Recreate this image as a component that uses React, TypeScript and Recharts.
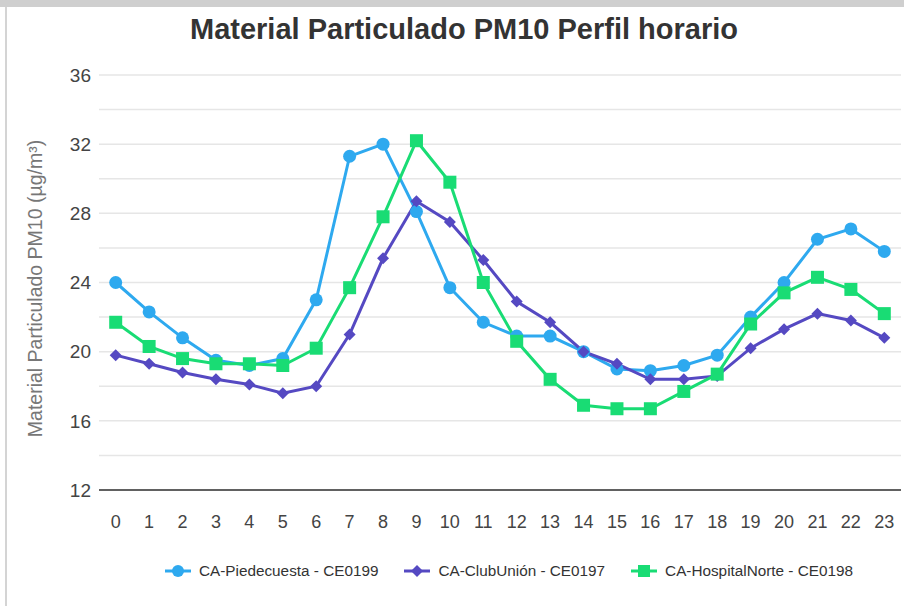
import { LineChart, Line, XAxis, YAxis, CartesianGrid } from 'recharts';

const hours = [0, 1, 2, 3, 4, 5, 6, 7, 8, 9, 10, 11, 12, 13, 14, 15, 16, 17, 18, 19, 20, 21, 22, 23];
const piedecuesta = [24.0, 22.3, 20.8, 19.5, 19.2, 19.6, 23.0, 31.3, 32.0, 28.1, 23.7, 21.7, 20.9, 20.9, 20.0, 19.0, 18.9, 19.2, 19.8, 22.0, 24.0, 26.5, 27.1, 25.8];
const clubUnion = [19.8, 19.3, 18.8, 18.4, 18.1, 17.6, 18.0, 21.0, 25.4, 28.7, 27.5, 25.3, 22.9, 21.7, 20.0, 19.3, 18.4, 18.4, 18.6, 20.2, 21.3, 22.2, 21.8, 20.8];
const hospitalNorte = [21.7, 20.3, 19.6, 19.3, 19.3, 19.2, 20.2, 23.7, 27.8, 32.2, 29.8, 24.0, 20.6, 18.4, 16.9, 16.7, 16.7, 17.7, 18.7, 21.6, 23.4, 24.3, 23.6, 22.2];
const yTicks = [12, 14, 16, 18, 20, 22, 24, 26, 28, 30, 32, 34, 36];

const C_BLUE = '#2ea9ef';
const C_PURPLE = '#5549c2';
const C_GREEN = '#19dc74';

const data = hours.map((h, i) => ({
  hour: h,
  pie: piedecuesta[i],
  club: clubUnion[i],
  hosp: hospitalNorte[i],
}));

const FONT = '"Liberation Sans", Arial, sans-serif';

function CircleDot(props: any) {
  const { cx, cy, index } = props;
  return <circle key={`c${index}`} cx={cx} cy={cy} r={6.5} fill={C_BLUE} />;
}
function DiamondDot(props: any) {
  const { cx, cy, index } = props;
  const s = 6;
  return (
    <path key={`d${index}`} d={`M${cx},${cy - s} L${cx + s},${cy} L${cx},${cy + s} L${cx - s},${cy} Z`} fill={C_PURPLE} />
  );
}
function SquareDot(props: any) {
  const { cx, cy, index } = props;
  return <rect key={`s${index}`} x={cx - 6.5} y={cy - 6.5} width={13} height={13} fill={C_GREEN} />;
}

const legendItems = [
  { name: 'CA-Piedecuesta - CE0199', color: C_BLUE, shape: 'circle' },
  { name: 'CA-ClubUnión - CE0197', color: C_PURPLE, shape: 'diamond' },
  { name: 'CA-HospitalNorte - CE0198', color: C_GREEN, shape: 'square' },
];

function LegendIcon({ color, shape }: { color: string; shape: string }) {
  return (
    <svg width={26} height={14} style={{ marginRight: 8 }}>
      <line x1={0} y1={7} x2={26} y2={7} stroke={color} strokeWidth={3} />
      {shape === 'circle' && <circle cx={13} cy={7} r={6} fill={color} />}
      {shape === 'diamond' && <path d="M13,1 L19,7 L13,13 L7,7 Z" fill={color} />}
      {shape === 'square' && <rect x={7} y={1} width={12} height={12} fill={color} />}
    </svg>
  );
}

export default function App() {
  return (
    <div style={{ position: 'absolute', left: 0, top: 0, width: 904, height: 606, background: '#fff', fontFamily: FONT }}>
      <div style={{ position: 'absolute', left: 0, top: 0, width: 904, height: 7, background: '#cfcfcf' }} />
      <div style={{ position: 'absolute', left: 5, top: 7, width: 2, height: 599, background: '#d4d4d4' }} />
      <div
        style={{
          position: 'absolute', left: 0, width: 928, top: 13, textAlign: 'center',
          fontSize: 29, fontWeight: 'bold', color: '#333',
        }}
      >
        Material Particulado PM10 Perfil horario
      </div>
      <LineChart
        width={904}
        height={606}
        data={data}
        margin={{ top: 75, right: 3, left: 0, bottom: 86 }}
      >
        <CartesianGrid vertical={false} stroke="#e6e6e6" strokeWidth={1.5} />
        <XAxis
          dataKey="hour"
          padding={{ left: 16.7, right: 16.7 }}
          tick={{ fill: '#444', fontSize: 18, fontFamily: FONT }}
          tickLine={false}
          axisLine={{ stroke: '#333', strokeWidth: 1.5 }}
          tickMargin={19}
          interval={0}
        />
        <YAxis
          width={99}
          domain={[12, 36]}
          ticks={yTicks}
          interval={0}
          tickFormatter={(v: number) => (v % 4 === 0 ? `${v}` : '')}
          tick={{ fill: '#444', fontSize: 19, fontFamily: FONT }}
          tickLine={false}
          axisLine={false}
          label={{
            value: 'Material Particulado PM10 (µg/m³)',
            angle: -90,
            position: 'center',
            dx: -14,
            dy: 6,
            style: { fill: '#777', fontSize: 19.5, fontFamily: FONT, textAnchor: 'middle' },
          }}
        />
        <Line dataKey="pie" stroke={C_BLUE} strokeWidth={3} dot={CircleDot} activeDot={false} isAnimationActive={false} />
        <Line dataKey="club" stroke={C_PURPLE} strokeWidth={3} dot={DiamondDot} activeDot={false} isAnimationActive={false} />
        <Line dataKey="hosp" stroke={C_GREEN} strokeWidth={3} dot={SquareDot} activeDot={false} isAnimationActive={false} />
      </LineChart>
      <div
        style={{
          position: 'absolute', left: 165, top: 562, display: 'flex', alignItems: 'center',
          fontSize: 15.3, color: '#333',
        }}
      >
        {legendItems.map((it) => (
          <div key={it.name} style={{ display: 'flex', alignItems: 'center', marginRight: 26 }}>
            <LegendIcon color={it.color} shape={it.shape} />
            <span>{it.name}</span>
          </div>
        ))}
      </div>
    </div>
  );
}
